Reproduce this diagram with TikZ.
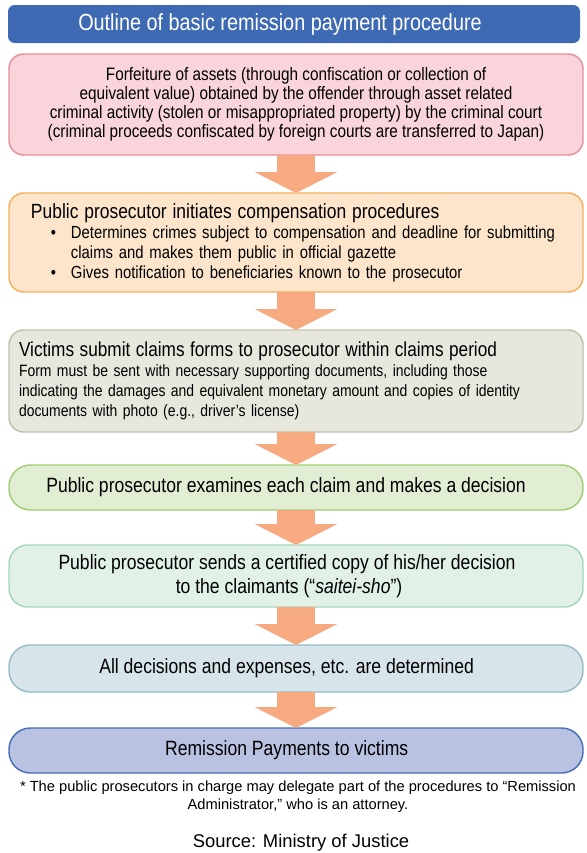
\documentclass[tikz,border=0pt]{standalone}
\usepackage{fontspec}
\setmainfont{Liberation Sans}[FakeStretch=0.85]
\newfontfamily\widefont{Liberation Sans}
\usetikzlibrary{arrows.meta,positioning}
\definecolor{titlecolor}{RGB}{62,106,180}
\definecolor{arrowcolor}{RGB}{247,170,128}
\definecolor{seizefill}{RGB}{249,213,219}
\definecolor{seizeline}{RGB}{231,143,158}
\definecolor{startfill}{RGB}{252,229,203}
\definecolor{startline}{RGB}{245,176,97}
\definecolor{claimfill}{RGB}{232,231,222}
\definecolor{claimline}{RGB}{191,193,172}
\definecolor{examfill}{RGB}{226,238,211}
\definecolor{examline}{RGB}{160,206,112}
\definecolor{sendfill}{RGB}{225,241,231}
\definecolor{sendline}{RGB}{166,215,186}
\definecolor{fixfill}{RGB}{215,228,234}
\definecolor{fixline}{RGB}{150,189,201}
\definecolor{payfill}{RGB}{186,194,226}
\definecolor{payline}{RGB}{72,110,186}

\begin{document}
\begin{tikzpicture}[
  x=0.75pt, y=-0.75pt,
  titlebar/.style={fill=titlecolor, text=white, rounded corners=5pt,
                   minimum width=429pt, minimum height=28.5pt, inner sep=0pt,
                   font=\fontsize{17.5}{20}\selectfont},
  stage/.style={draw, line width=1.1pt, rounded corners=11pt, outer sep=0pt,
                minimum width=430.5pt, inner sep=0pt, align=center,
                font=\fontsize{13.5}{14.4}\selectfont},
  head/.style={font=\fontsize{15.5}{17}\selectfont},
  flow/.style={line width=28.5pt, draw=arrowcolor,
               -{Triangle[length=15.75pt, width=61.5pt]}},
  note/.style={align=center, inner sep=0pt, font=\widefont\fontsize{11}{13.5}\selectfont},
  source/.style={inner sep=0pt, font=\widefont\fontsize{13.8}{15}\selectfont}
]
\useasboundingbox (0,0) rectangle (586,853);

% Title
\node[titlebar] (title) at (294,24)
     {\hspace*{-21pt}Outline of basic remission payment procedure};

% Forfeiture
\node[stage, fill=seizefill, draw=seizeline, minimum height=75.75pt]
     (seize) at (296,104.5)
     {Forfeiture of assets (through confiscation or collection of\\
      equivalent value) obtained by the offender through asset related\\
      criminal activity (stolen or misappropriated property) by the criminal court\\
      (criminal proceeds confiscated by foreign courts are transferred to Japan)};

% Prosecutor starts
\node[stage, fill=startfill, draw=startline, minimum height=74.25pt,
      below=28.5pt of seize, text width=397.5pt, align=left,
      font=\fontsize{13.1}{15}\selectfont]
     (start)
     {{\fontsize{15.4}{15}\selectfont Public prosecutor initiates compensation procedures}\\
      \makebox[30pt][l]{\hspace{15pt}\textbullet}Determines crimes subject to compensation and deadline for submitting\\
      \hspace*{30pt}claims and makes them public in official gazette\\
      \makebox[30pt][l]{\hspace{15pt}\textbullet}Gives notification to beneficiaries known to the prosecutor};
\draw[flow] (seize) -- (start);

% Claims
\node[stage, fill=claimfill, draw=claimline, minimum height=76.5pt,
      below=28.5pt of start, text width=415.5pt, align=left,
      font=\fontsize{12.3}{15}\selectfont]
     (claim)
     {{\fontsize{15.2}{15}\selectfont Victims submit claims forms to prosecutor within claims period}\\
      Form must be sent with necessary supporting documents, including those\\
      indicating the damages and equivalent monetary amount and copies of identity\\
      documents with photo (e.g., driver’s license)};
\draw[flow] (start) -- (claim);

% Examination
\node[stage, fill=examfill, draw=examline, minimum height=33.75pt,
      rounded corners=16pt, below=24.75pt of claim, head]
     (exam) {\hspace*{-15pt}Public prosecutor examines each claim and makes a decision};
\draw[flow] (claim) -- (exam);

% Decision sent
\node[stage, fill=sendfill, draw=sendline, minimum height=46.5pt,
      rounded corners=14pt, below=26.25pt of exam,
      font=\fontsize{15.5}{17.5}\selectfont]
     (send) {\hspace*{-13.5pt}Public prosecutor sends a certified copy of his/her decision\\
             \hspace*{-10.5pt}to the claimants (“\textit{saitei-sho}”)};
\draw[flow] (exam) -- (send);

% Determined
\node[stage, fill=fixfill, draw=fixline, minimum height=35.25pt,
      rounded corners=16pt, below=28.5pt of send, head]
     (fix) {\hspace*{-14pt}All decisions and expenses, etc. are determined};
\draw[flow] (send) -- (fix);

% Payment
\node[stage, fill=payfill, draw=payline, minimum height=33.75pt,
      rounded corners=16pt, below=27pt of fix, head]
     (pay) {\hspace*{-14pt}Remission Payments to victims};
\draw[flow] (fix) -- (pay);

% Footnote and source
\node[note, below=6pt of pay, xshift=1.5pt] (note)
     {* The public prosecutors in charge may delegate part of the procedures to “Remission\\
      Administrator,” who is an attorney.};
\node[source] (src) at (301,843) {Source: Ministry of Justice};

\end{tikzpicture}
\end{document}
